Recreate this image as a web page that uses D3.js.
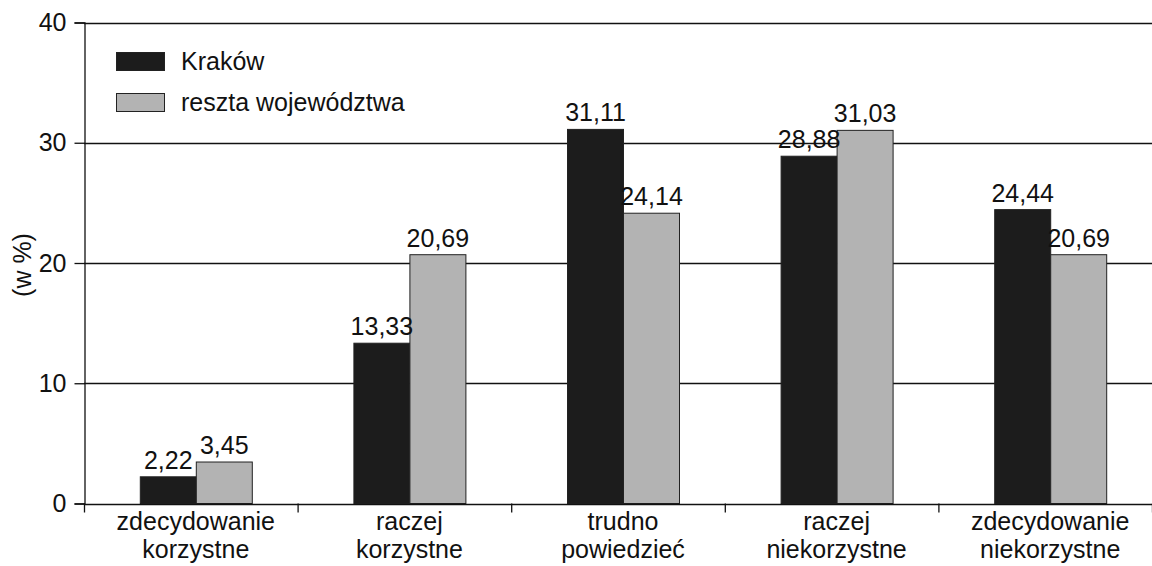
<!DOCTYPE html>
<html>
<head>
<meta charset="utf-8">
<script src="https://cdn.jsdelivr.net/npm/d3@7"></script>
<style>
  html, body { margin: 0; padding: 0; background: #fff; }
  text { font-family: "Liberation Sans", Arial, Helvetica, sans-serif; fill: #111; }
</style>
</head>
<body>
<svg id="chart" width="1152" height="566"></svg>
<script>
// Survey answers (percent) for Kraków vs. the rest of the voivodeship
const categories = [
  ["zdecydowanie", "korzystne"],
  ["raczej", "korzystne"],
  ["trudno", "powiedzieć"],
  ["raczej", "niekorzystne"],
  ["zdecydowanie", "niekorzystne"]
];
const seriesNames = ["Kraków", "reszta województwa"];
const krakow = [2.22, 13.33, 31.11, 28.88, 24.44];
const resztaWojewodztwa = [3.45, 20.69, 24.14, 31.03, 20.69];
const yTicks = [0, 10, 20, 30, 40];
const colors = ["#1c1c1c", "#b3b3b3"];

const FS = "25px";
const svg = d3.select("#chart");
const margin = { left: 84, right: 0, top: 22, bottom: 63 };
const W = 1152, H = 566;
const x0 = margin.left, x1 = W - margin.right;
const y0 = H - margin.bottom, y1 = margin.top;

const x = d3.scaleBand().domain(d3.range(categories.length)).range([x0, x1]).paddingInner(0).paddingOuter(0);
const xs = d3.scaleBand().domain([0, 1]).range([0, 112]);
const y = d3.scaleLinear().domain([0, 40]).range([y0 + 0.5, y1 + 0.5]);

// horizontal gridlines
svg.append("g").selectAll("line").data(yTicks.filter(t => t > 0)).join("line")
  .attr("x1", x0).attr("x2", x1)
  .attr("y1", d => Math.round(y(d)) + 0.5).attr("y2", d => Math.round(y(d)) + 0.5)
  .attr("stroke", "#111").attr("stroke-width", 1.3);

// y axis
const yAxis = d3.axisLeft(y).tickValues(yTicks).tickSize(10).tickPadding(8).tickFormat(d3.format("d"));
const gy = svg.append("g").attr("transform", `translate(${x0 + 0.5},0)`).call(yAxis);
gy.select(".domain").attr("stroke", "#111").attr("stroke-width", 1.3);
gy.selectAll(".tick line").attr("stroke", "#111").attr("stroke-width", 1.3);
gy.selectAll(".tick text").style("font-size", FS).attr("fill", "#111")
  .style("font-family", "'Liberation Sans', Arial, sans-serif");

// y axis title
svg.append("text")
  .attr("transform", `translate(31,265) rotate(-90)`)
  .attr("text-anchor", "middle")
  .style("font-size", FS)
  .text("(w %)");

// bars
const data = categories.map((c, i) => ({ i, vals: [krakow[i], resztaWojewodztwa[i]] }));
const groups = svg.append("g").selectAll("g").data(data).join("g")
  .attr("transform", d => `translate(${x(d.i) + x.bandwidth() / 2 - 56 + 5},0)`);

groups.selectAll("rect").data(d => d.vals.map((v, s) => ({ v, s }))).join("rect")
  .attr("x", d => xs(d.s) + 0.5)
  .attr("width", xs.bandwidth())
  .attr("y", d => y(d.v))
  .attr("height", d => y(0) - y(d.v))
  .attr("fill", d => colors[d.s])
  .attr("stroke", "#222").attr("stroke-width", 1);

groups.selectAll("text.val").data(d => d.vals.map((v, s) => ({ v, s }))).join("text")
  .attr("class", "val")
  .attr("x", d => xs(d.s) + xs.bandwidth() / 2 + 0.5)
  .attr("y", d => y(d.v) - 8)
  .attr("text-anchor", "middle")
  .style("font-size", FS)
  .text(d => d.v.toFixed(2).replace(".", ","));

// x axis line and ticks between categories
svg.append("line").attr("x1", x0).attr("x2", x1)
  .attr("y1", Math.round(y(0)) + 0.5).attr("y2", Math.round(y(0)) + 0.5)
  .attr("stroke", "#111").attr("stroke-width", 1.5);
svg.append("g").selectAll("line").data(d3.range(categories.length + 1)).join("line")
  .attr("x1", i => (i < categories.length ? x(i) : x1) + 0.5)
  .attr("x2", i => (i < categories.length ? x(i) : x1) + 0.5)
  .attr("y1", y(0)).attr("y2", y(0) + 9)
  .attr("stroke", "#111").attr("stroke-width", 1.3);

// category labels
const cl = svg.append("g").selectAll("text").data(categories).join("text")
  .attr("text-anchor", "middle")
  .style("font-size", FS)
  .attr("x", (d, i) => x(i) + x.bandwidth() / 2 + 5);
cl.selectAll("tspan").data(d => d).join("tspan")
  .attr("x", function () { return d3.select(this.parentNode).attr("x"); })
  .attr("y", (d, k) => 530 + k * 28)
  .text(d => d);

// legend
const legend = svg.append("g");
seriesNames.forEach((name, s) => {
  const ly = 52 + s * 41;
  legend.append("rect").attr("x", 116.5).attr("y", ly + 0.5).attr("width", 48).attr("height", 18)
    .attr("fill", colors[s]).attr("stroke", "#222").attr("stroke-width", 1);
  legend.append("text").attr("x", 181).attr("y", ly + 18).style("font-size", FS).text(name);
});
</script>
</body>
</html>
